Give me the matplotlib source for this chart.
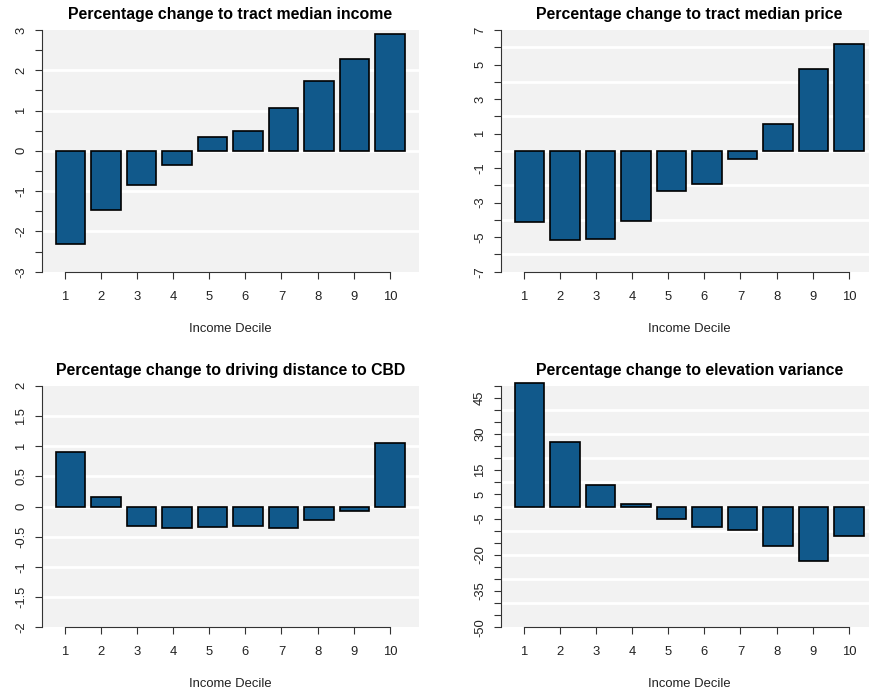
import numpy as np
import matplotlib
matplotlib.use("Agg")
import matplotlib.pyplot as plt

plt.rcParams['font.family'] = ['Liberation Sans', 'DejaVu Sans']

# data
deciles = [1, 2, 3, 4, 5, 6, 7, 8, 9, 10]
income = [-2.32, -1.48, -0.84, -0.34, 0.35, 0.49, 1.06, 1.74, 2.29, 2.89]
price = [-4.13, -5.15, -5.09, -4.05, -2.31, -1.93, -0.50, 1.58, 4.72, 6.17]
distance = [0.91, 0.16, -0.33, -0.36, -0.34, -0.33, -0.36, -0.23, -0.07, 1.05]
elevation = [51.0, 26.5, 9.0, 1.2, -5.0, -8.4, -9.9, -16.2, -22.4, -12.3]

titles = ["Percentage change to tract median income",
          "Percentage change to tract median price",
          "Percentage change to driving distance to CBD",
          "Percentage change to elevation variance"]

# y axis setup for each panel: limits, tick step, labelled ticks, white grid lines
ylims = [(-3, 3), (-7, 7), (-2, 2), (-50, 50)]
ysteps = [0.5, 1, 0.5, 5]
ylabels = [[-3, -2, -1, 0, 1, 2, 3],
           [-7, -5, -3, -1, 1, 3, 5, 7],
           [-2, -1.5, -1, -0.5, 0, 0.5, 1, 1.5, 2],
           [-50, -35, -20, -5, 5, 15, 30, 45]]
grids = [[-2, -1, 0, 1, 2],
         [-6, -4, -2, 0, 2, 4, 6],
         [-1.5, -1, -0.5, 0, 0.5, 1, 1.5],
         [-40, -30, -20, -10, 0, 10, 20, 30, 40]]
series = [income, price, distance, elevation]

W, H = 869, 696
fig = plt.figure(figsize=(W / 100, H / 100), dpi=100)

# pixel boxes (left, top, right, bottom) of the plot regions
boxes = [(42, 30, 418.5, 271.7), (501, 30, 877.5, 271.7),
         (42, 385.7, 418.5, 627.3), (501, 385.7, 877.5, 627.3)]

bar_col = '#11598B'
ax_col = '#333333'
fs = 9.4

# barplot-like positions: width 1, space 0.2
centers = 0.7 + 1.2 * np.arange(len(deciles))
tick_pos = np.linspace(0.5, 11.5, len(deciles))

for i in range(4):
    l, t, r, b = boxes[i]
    ax = fig.add_axes([l / W, 1 - b / H, (r - l) / W, (b - t) / H])
    ax.set_facecolor('#F2F2F2')
    ax.set_xlim(-0.272, 12.472)
    ax.set_ylim(*ylims[i])

    for g in grids[i]:
        ax.axhline(g, color='white', lw=2.0, zorder=1)

    ax.bar(centers, series[i], width=1.0, color=bar_col, edgecolor='black',
           linewidth=1.2, zorder=3, clip_on=False)

    for s in ['top', 'right']:
        ax.spines[s].set_visible(False)
    for s in ['left', 'bottom']:
        ax.spines[s].set_color(ax_col)
        ax.spines[s].set_linewidth(0.8)
    ax.spines['left'].set_bounds(*ylims[i])
    ax.spines['bottom'].set_bounds(tick_pos[0], tick_pos[-1])

    ax.set_xticks(tick_pos)
    ax.set_xticklabels([str(d) for d in deciles])
    lo, hi = ylims[i]
    allt = np.arange(lo, hi + ysteps[i] / 2, ysteps[i])
    ax.set_yticks(ylabels[i])
    ax.set_yticklabels([('%g' % v) for v in ylabels[i]])
    ax.set_yticks([v for v in allt if not np.any(np.isclose(v, ylabels[i]))], minor=True)

    ax.tick_params(axis='both', which='both', direction='out', length=5.2,
                   width=0.8, color=ax_col, labelsize=fs, labelcolor='#222222')
    ax.tick_params(axis='x', pad=8.5)
    ax.tick_params(axis='y', pad=5.5, labelrotation=90)
    for lab in ax.get_yticklabels():
        lab.set_va('center')

    ax.set_title(titles[i], fontsize=11.4, fontweight='bold', pad=7.9)
    ax.set_xlabel("Income Decile", fontsize=fs, labelpad=14.5, color='#222222')

fig.savefig("out.png", dpi=100)
